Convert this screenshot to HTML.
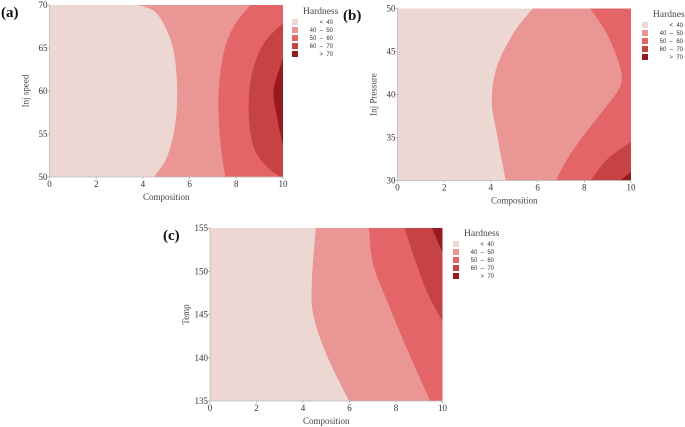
<!DOCTYPE html>
<html><head><meta charset="utf-8"><style>
body{margin:0;background:#fff;width:685px;height:427px;overflow:hidden}
svg{display:block;font-family:"Liberation Serif",serif}
text{white-space:pre}
</style></head><body>
<svg id="s" width="685" height="427"></svg>
<script>
const levelLabels=['<  40','40  \u2013  50','50  \u2013  60','60  \u2013  70','>  70'];
const levelColors=['#ecd7d2','#ea9694','#e36567','#c74343','#971b1e'];
const xTicks=[0,2,4,6,8,10];
// chart (a)
const aYTicks=[50,55,60,65,70];
const aC40=[[3.8,70],[4.6,69],[5.24,65.5],[5.46,60.9],[5.39,56.2],[5.03,52.3],[4.46,50]];
const aC50=[[8.6,70],[7.89,67.5],[7.46,64.4],[7.24,59.7],[7.31,54.3],[7.53,50]];
const aC60=[[10,67.9],[9.17,65.5],[8.67,62],[8.53,57.8],[8.74,53.5],[9.31,51.2],[9.89,50]];
const aC70=[[10,63.8],[9.6,60.1],[9.74,57],[10,53.7]];
// chart (b)
const bYTicks=[30,35,40,45,50];
const bC40=[[5.79,50],[4.96,47.1],[4.25,43.2],[4.04,39.3],[4.25,35.5],[4.64,30]];
const bC50=[[8.25,50],[8.96,47.1],[9.53,43.2],[9.53,40.9],[8.82,38.2],[7.82,34.7],[7.25,32.4],[6.78,30]];
const bC60=[[10,34.5],[8.96,32.4],[8.27,30]];
const bC70=[[10,31],[9.53,30]];
// chart (c)
const cYTicks=[135,140,145,150,155];
const cC40=[[4.55,155],[4.38,148.8],[4.45,144.9],[5.02,140.3],[5.98,135]];
const cC50=[[6.84,155],[7.03,150.7],[7.75,145.7],[8.46,141.1],[9.47,135]];
const cC60=[[8.36,155],[8.9,150.7],[9.33,147.6],[10,144.2]];
const cC70=[[9.54,155],[10,152.2]];

const NS='http://www.w3.org/2000/svg';
const svg=document.getElementById('s');
function el(tag,attrs,parent,text){const e=document.createElementNS(NS,tag);for(const k in attrs)e.setAttribute(k,attrs[k]);if(text!==undefined)e.textContent=text;(parent||svg).appendChild(e);return e;}
function smooth(p){let d='M'+p[0][0]+','+p[0][1];for(let i=0;i<p.length-1;i++){const p0=p[i-1]||p[i],p1=p[i],p2=p[i+1],p3=p[i+2]||p2;
d+=' C'+(p1[0]+(p2[0]-p0[0])/6)+','+(p1[1]+(p2[1]-p0[1])/6)+' '+(p2[0]-(p3[0]-p1[0])/6)+','+(p2[1]-(p3[1]-p1[1])/6)+' '+p2[0]+','+p2[1];}return d;}
function chart(id,label,L,R,T,B,ymin,ymax,yTicks,curves,ytitle,lx,ly){
 const g=el('g',{},svg);
 const sx=v=>L+(v-0)/10*(R-L), sy=v=>B-(v-ymin)/(ymax-ymin)*(B-T);
 const cid='clip-'+id;
 const cp=el('clipPath',{id:cid},g);el('rect',{x:L,y:T,width:R-L,height:B-T},cp);
 const bg=el('rect',{x:L,y:T,width:R-L,height:B-T,fill:levelColors[0]},g);
 
 curves.forEach((c,i)=>{const pts=c.map(q=>[sx(q[0]),sy(q[1])]);
  const first=pts[0],last=pts[pts.length-1];
  let d=smooth(pts)+' L'+R+','+last[1]+' L'+R+','+first[1]+' Z';
  const p=el('path',{d:d,fill:levelColors[i+1],'clip-path':'url(#'+cid+')'},g);
  });
 const ax=el('path',{d:'M'+L+','+T+' L'+L+','+B+' L'+R+','+B,fill:'none',stroke:'#bbb','stroke-width':0.8},g);
 
 xTicks.forEach(t=>{el('line',{x1:sx(t),x2:sx(t),y1:B,y2:B+2,stroke:'#999','stroke-width':0.6},g);
  const tx=el('text',{x:sx(t),y:B+10,'font-size':9,'text-anchor':'middle',fill:'#333'},g,t);
  });
 yTicks.forEach(t=>{el('line',{x1:L-2,x2:L,y1:sy(t),y2:sy(t),stroke:'#999','stroke-width':0.6},g);
  const tx=el('text',{x:L-2,y:sy(t)+3,'font-size':9,'text-anchor':'end',fill:'#333'},g,t);
  });
 const xt=el('text',{x:(L+R)/2,y:B+23,'font-size':9,'text-anchor':'middle',fill:'#444'},g,'Composition');
 
 const yt=el('text',{x:0,y:0,'font-size':9,'text-anchor':'middle',fill:'#444',transform:'translate('+(L-21)+','+((T+B)/2)+') rotate(-90)'},g,ytitle);
 
 const pl=el('text',{x:label[1],y:label[2],'font-size':15,'font-weight':'bold',fill:'#111'},g,label[0]);
 
 const lg=el('g',{},g);
 el('text',{x:lx+11,y:ly,'font-size':9.5,fill:'#444'},lg,'Hardness');
 levelColors.forEach((c,i)=>{const y=ly+5+i*8;
  const r=el('rect',{x:lx,y:y,width:6,height:6,fill:c},lg);
  
  const t=el('text',{x:lx+41,y:y+5,'font-size':6,'text-anchor':'end',fill:'#333','font-family':'Liberation Sans, sans-serif'},lg,levelLabels[i]);
  });
}
chart('a',['(a)',1,17],49.5,283,5,177,50,70,aYTicks,[aC40,aC50,aC60,aC70],'Inj speed',292,14);
chart('b',['(b)',343,20],397.5,631,8.5,180.5,30,50,bYTicks,[bC40,bC50,bC60,bC70],'Inj Pressure',642,17);
chart('c',['(c)',163,240],210,442.5,228,401,135,155,cYTicks,[cC40,cC50,cC60,cC70],'Temp',453,236);
</script>
</body></html>
